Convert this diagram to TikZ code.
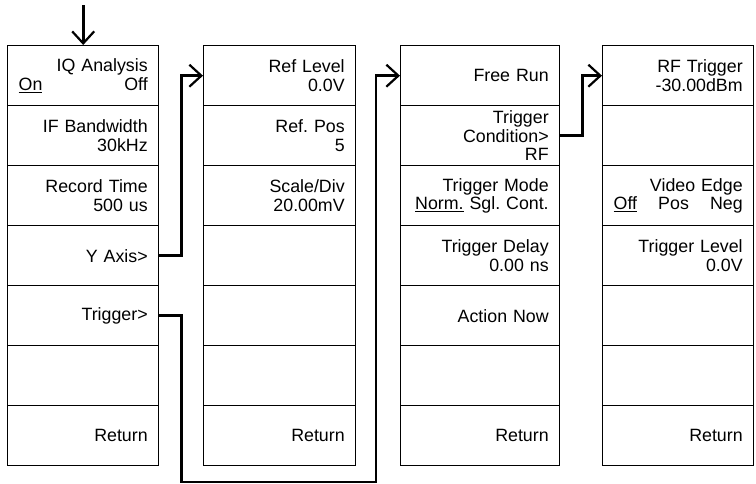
\documentclass[tikz,border=0pt]{standalone}
\usepackage{fontspec}
\setmainfont{Liberation Sans}
\usetikzlibrary{arrows.meta}

\begin{document}
\begin{tikzpicture}[
  x=1pt,y=1pt,
  font=\fontsize{17.8}{18.4}\selectfont\frenchspacing,
  cell/.style={draw,line width=1.4pt,anchor=north west,minimum height=\rowh,
               inner xsep=11pt,inner ysep=0pt,text width=#1,align=right},
  cell/.default=129pt,
  link/.style={line width=2.6pt,
               -{Straight Barb[length=12pt,width=22pt,line width=2.2pt]}}
]
\def\rowh{60}
\useasboundingbox (0,45) rectangle (756,-438);
% column 1: IQ analysis menu
\node[cell] (a0) at (7,0)          {IQ Analysis\\ \underline{On}\hfill Off};
\node[cell] (a1) at (7,-1*\rowh)   {IF Bandwidth\\ 30kHz};
\node[cell] (a2) at (7,-2*\rowh)   {Record Time\\ 500 us};
\node[cell] (a3) at (7,-3*\rowh)   {Y Axis>};
\node[cell] (a4) at (7,-4*\rowh)   {Trigger>};
\node[cell] (a5) at (7,-5*\rowh)   {};
\node[cell] (a6) at (7,-6*\rowh)   {Return};
% column 2: Y axis
\node[cell=130pt] (b0) at (203,0)        {Ref Level\\ 0.0V};
\node[cell=130pt] (b1) at (203,-1*\rowh) {Ref. Pos\\ 5};
\node[cell=130pt] (b2) at (203,-2*\rowh) {Scale/Div\\ 20.00mV};
\node[cell=130pt] (b3) at (203,-3*\rowh) {};
\node[cell=130pt] (b4) at (203,-4*\rowh) {};
\node[cell=130pt] (b5) at (203,-5*\rowh) {};
\node[cell=130pt] (b6) at (203,-6*\rowh) {Return};
% column 3: trigger
\node[cell=137pt] (c0) at (400,0)        {Free Run};
\node[cell=137pt] (c1) at (400,-1*\rowh) {Trigger\\ Condition>\\ RF};
\node[cell=137pt] (c2) at (400,-2*\rowh) {Trigger Mode\\ \underline{Norm.} Sgl. Cont.};
\node[cell=137pt] (c3) at (400,-3*\rowh) {Trigger Delay\\ 0.00 ns};
\node[cell=137pt] (c4) at (400,-4*\rowh) {Action Now};
\node[cell=137pt] (c5) at (400,-5*\rowh) {};
\node[cell=137pt] (c6) at (400,-6*\rowh) {Return};
% column 4: trigger condition
\node[cell] (d0) at (602,0)        {RF Trigger\\ -30.00dBm};
\node[cell] (d1) at (602,-1*\rowh) {};
\node[cell] (d2) at (602,-2*\rowh) {Video Edge\\ \underline{Off}\hfill Pos\hfill Neg};
\node[cell] (d3) at (602,-3*\rowh) {Trigger Level\\ 0.0V};
\node[cell] (d4) at (602,-4*\rowh) {};
\node[cell] (d5) at (602,-5*\rowh) {};
\node[cell] (d6) at (602,-6*\rowh) {Return};

% connectors
\coordinate (entry) at ([yshift=40pt]a0.north);
\coordinate (low) at (376,-437);
\draw[link] (entry) -- (a0.north);
\draw[link] (a3.east) -- ++(22,0) |- (b0.west);
\draw[link] (a4.east) -- ++(22,0) |- (low) |- (c0.west);
\draw[link] (c1.east) -- ++(22,0) |- (d0.west);
\end{tikzpicture}
\end{document}
